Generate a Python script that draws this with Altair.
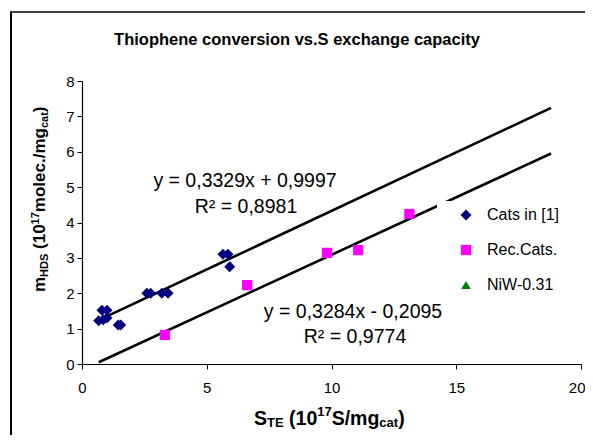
import altair as alt
import pandas as pd

# ---- data ----
series_names = ["Cats in [1]", "Rec.Cats.", "NiW-0.31"]
series_colors = ["#000080", "#FF00FF", "#008000"]
series_shapes = ["diamond", "square", "triangle-up"]

cats_x = [0.67, 0.8, 0.85, 1.0, 1.0, 1.45, 1.55, 2.6, 2.75, 3.2, 3.45, 5.65, 5.85, 5.92]
cats_y = [1.22, 1.52, 1.25, 1.52, 1.3, 1.1, 1.1, 2.0, 2.0, 2.0, 2.0, 3.1, 3.1, 2.75]
rec_x = [3.32, 6.62, 9.82, 11.07, 13.12]
rec_y = [0.82, 2.23, 3.14, 3.22, 4.24]

fit1_x = [0.67, 18.8]
fit1_y = [1.24, 7.24]
fit2_x = [0.67, 18.8]
fit2_y = [0.05, 5.95]

eq1 = ["y = 0,3329x + 0,9997", "R² = 0,8981"]
eq2 = ["y = 0,3284x - 0,2095", "R² = 0,9774"]

x_ticks = [0, 5, 10, 15, 20]
y_ticks = [0, 1, 2, 3, 4, 5, 6, 7, 8]

FONT = "Liberation Sans"
OX, OY = 82, 81          # page position of plot origin
W, H = 499, 283

pts = pd.DataFrame(
    {"x": cats_x + rec_x,
     "y": cats_y + rec_y,
     "s": [series_names[0]] * len(cats_x) + [series_names[1]] * len(rec_x)}
)
fits = pd.DataFrame(
    {"x": fit1_x + fit2_x, "y": fit1_y + fit2_y,
     "g": ["a"] * len(fit1_x) + ["b"] * len(fit2_x)}
)

xs = alt.Scale(domain=[0, 20], nice=False)
ys = alt.Scale(domain=[0, 8], nice=False)

last_x = x_ticks[-1]
xaxis = alt.Axis(values=x_ticks, grid=False, tickSize=5, labelPadding=11,
                 labelFontSize=15, labelFont=FONT, labelColor="black",
                 domainColor="black", tickColor="black", domainWidth=1.2,
                 labelFlush=False, labelOverlap=False, title=None,
                 labelAlign={"condition": {"test": f"datum.value == {last_x}", "value": "right"},
                             "value": "center"},
                 labelOffset={"condition": {"test": f"datum.value == {last_x}", "value": 4},
                              "value": 0})
yaxis = alt.Axis(values=y_ticks, grid=False, tickSize=5, labelPadding=3,
                 labelFontSize=15, labelFont=FONT, labelColor="black",
                 domainColor="black", tickColor="black", domainWidth=1.2,
                 labelFlush=False, labelOverlap=False, title=None)

lines = alt.Chart(fits).mark_line(color="black", strokeWidth=2.6).encode(
    x=alt.X("x:Q", scale=xs, axis=xaxis),
    y=alt.Y("y:Q", scale=ys, axis=yaxis),
    detail="g:N",
)

points = alt.Chart(pts).mark_point(filled=True, opacity=1).encode(
    x=alt.X("x:Q", scale=xs, axis=xaxis),
    y=alt.Y("y:Q", scale=ys, axis=yaxis),
    color=alt.Color("s:N", scale=alt.Scale(domain=series_names, range=series_colors),
                    legend=alt.Legend(orient="none", legendX=437 - OX, legendY=201 - OY,
                                      fillColor="white", padding=6, symbolOffset=15,
                                      labelOffset=13, labelFontSize=16, labelFont=FONT,
                                      labelColor="black", rowPadding=19, title=None,
                                      symbolStrokeWidth=0, symbolSize=100)),
    shape=alt.Shape("s:N", scale=alt.Scale(domain=series_names, range=series_shapes)),
    size=alt.Size("s:N", scale=alt.Scale(domain=series_names, range=[121, 90, 100])),
)


def txt(text, x, y, size, bold=False, align="center", angle=0, dx=0, dy=0):
    kw = dict(text=text, font=FONT, fontSize=size, align=align, baseline="alphabetic",
              color="black", fontWeight="bold" if bold else "normal")
    if angle:
        kw["angle"] = angle
    if dx:
        kw["dx"] = dx
    if dy:
        kw["dy"] = dy
    return alt.Chart(pd.DataFrame({"a": [0]})).mark_text(**kw).encode(
        x=alt.value(x), y=alt.value(y))


# bold Arial widths (per em)
BW = {"m": .889, "H": .722, "D": .722, "S": .667, " ": .278, "(": .333, ")": .333,
      "1": .556, "0": .556, "7": .556, "o": .611, "l": .278, "e": .556, "c": .556,
      ".": .278, "/": .278, "g": .611, "a": .556, "t": .333, "T": .611, "E": .667}


def rich(pieces, x, y, main, small, sub_shift, sup_shift, angle=0):
    """pieces: list of (text, kind) kind in n / sub / sup"""
    layers = []
    off = 0.0
    for t, k in pieces:
        size = main if k == "n" else small
        shift = 0 if k == "n" else (sub_shift if k == "sub" else sup_shift)
        lead = len(t) - len(t.lstrip(" "))
        off += lead * BW[" "] * size
        t2 = t.lstrip(" ")
        if angle:
            layers.append(txt(t2, x, y, size, bold=True, align="left", angle=angle,
                              dx=off, dy=shift))
        else:
            layers.append(txt(t2, x + off, y + shift, size, bold=True, align="left"))
        off += sum(BW.get(c, .556) for c in t2) * size
    return layers


ytitle = rich([("m", "n"), ("HDS", "sub"), (" (10", "n"), ("17", "sup"),
               ("molec./mg", "n"), ("cat", "sub"), (")", "n")],
              45 - OX, 292 - OY, 17, 11, 3, -6, angle=270)
xtitle = rich([("S", "n"), ("TE", "sub"), (" (10", "n"), ("17", "sup"),
               ("S/mg", "n"), ("cat", "sub"), (")", "n")],
              254 - OX, 425 - OY, 19.5, 13, 2, -9)

title = txt("Thiophene conversion vs.S exchange capacity", 297 - OX, 45 - OY, 16.5, bold=True)

annots = [
    txt(eq1[0], 245 - OX, 187 - OY, 19.5),
    txt(eq1[1], 246 - OX, 213 - OY, 19.5),
    txt(eq2[0], 353 - OX, 318 - OY, 19.5),
    txt(eq2[1], 355 - OX, 343 - OY, 19.5),
]

border_l = alt.Chart(pd.DataFrame({"a": [0]})).mark_rule(color="black", strokeWidth=2).encode(
    x=alt.value(11 - OX), y=alt.value(12 - OY), y2=alt.value(450 - OY))
border_t = alt.Chart(pd.DataFrame({"a": [0]})).mark_rule(color="black", strokeWidth=1.5).encode(
    x=alt.value(10 - OX), x2=alt.value(600 - OX), y=alt.value(12 - OY))

chart = alt.layer(
    lines, points, *annots, title, *ytitle, *xtitle, border_l, border_t
).properties(
    width=W, height=H,
    autosize=alt.AutoSizeParams(type="none"),
    padding={"left": OX - 8, "top": OY - 8, "right": 577 - (OX - 8) - W,
             "bottom": 427 - (OY - 8) - H},
    background="white",
).configure_view(stroke=None)

chart.save("out.html", embed_options={"renderer": "svg", "actions": False})
